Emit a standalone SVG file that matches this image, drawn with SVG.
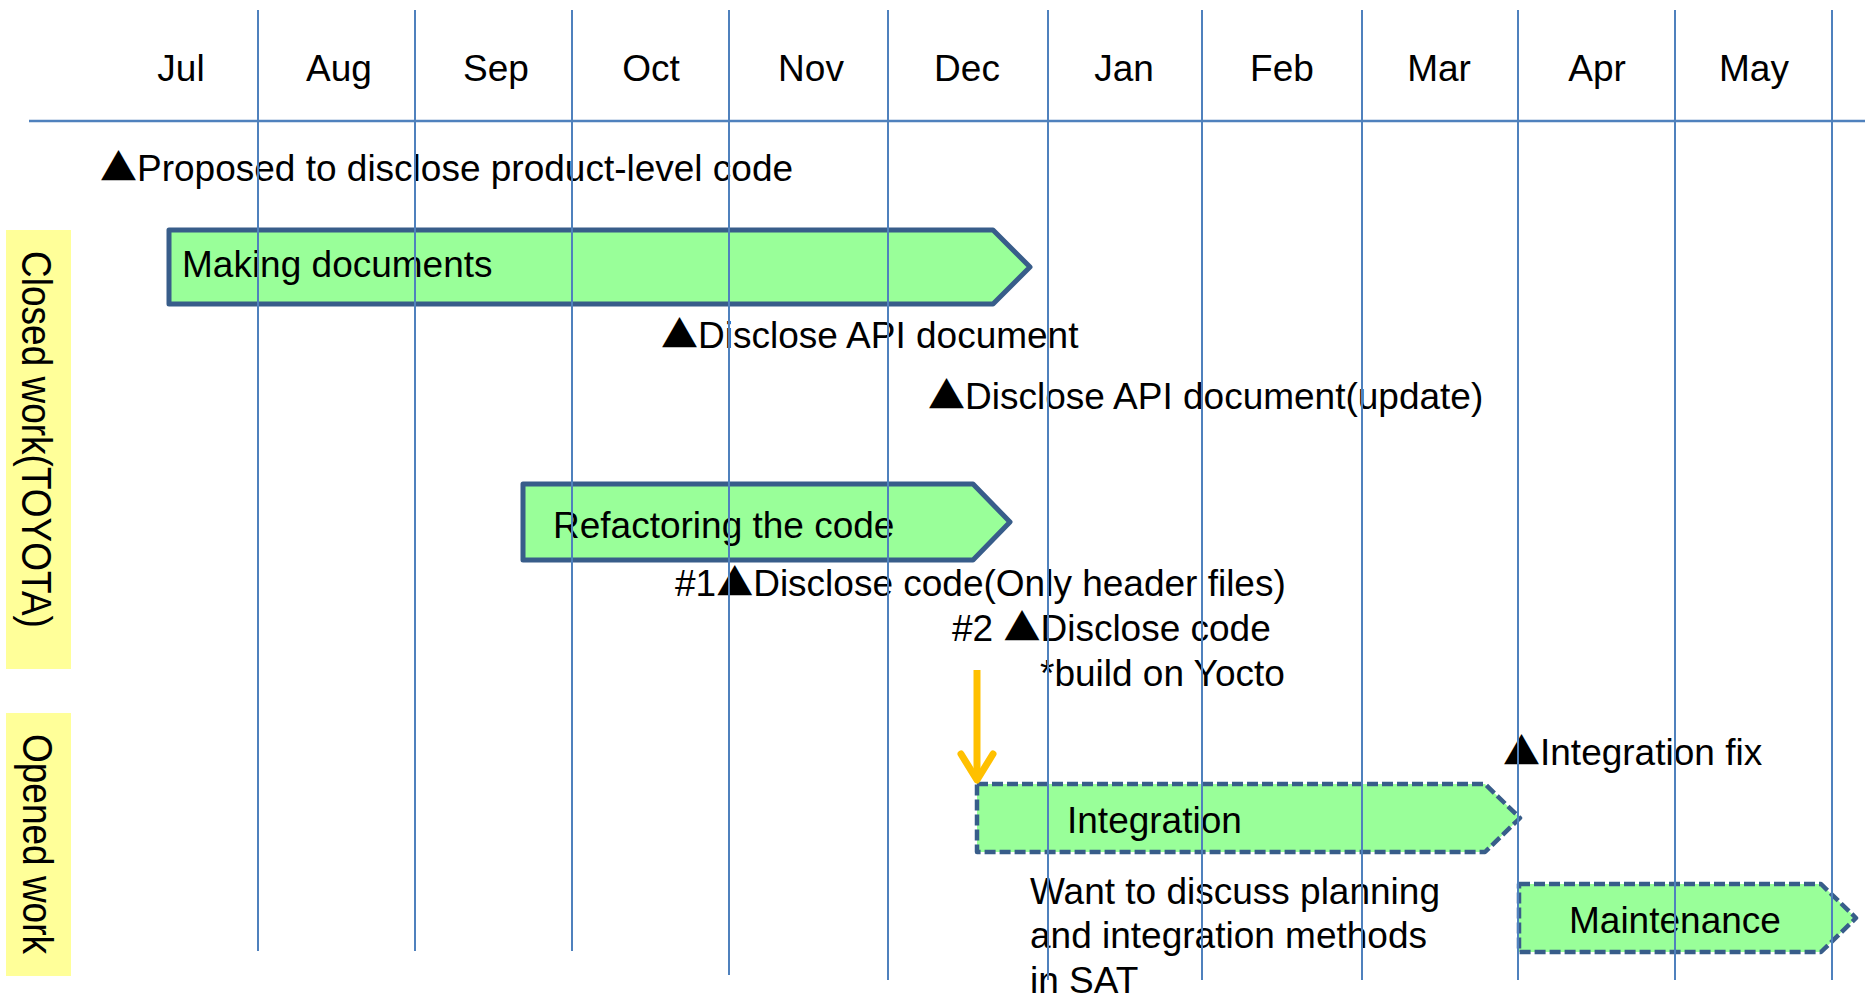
<svg xmlns="http://www.w3.org/2000/svg" width="1865" height="1003" viewBox="0 0 1865 1003">
<style>
text{font-family:"Liberation Sans",Arial,sans-serif;font-size:37px;fill:#000}
.tri{font-family:"Noto Sans CJK JP","Liberation Sans",sans-serif}
.mon{text-anchor:middle}
.lane{fill:#FFFF99}
.bar{fill:#99FF99;stroke:#385D8A;stroke-width:5;stroke-linejoin:round}
.dash{fill:#99FF99;stroke:#385D8A;stroke-width:4.5;stroke-dasharray:11 4;stroke-linejoin:round}
.grid{stroke:#4F81BD;stroke-width:2;fill:none}
</style>
<defs>
<marker id="chev" viewBox="0 0 40 40" refX="36" refY="20" markerWidth="40" markerHeight="40" markerUnits="userSpaceOnUse" orient="auto">
<path d="M10,4 L36,20 L10,36" fill="none" stroke="#FFC000" stroke-width="7" stroke-linecap="round" stroke-linejoin="round"/>
</marker>
</defs>
<rect width="1865" height="1003" fill="#fff"/>

<g id="months">
<text class="mon" x="181" y="81">Jul</text>
<text class="mon" x="339" y="81">Aug</text>
<text class="mon" x="496" y="81">Sep</text>
<text class="mon" x="651" y="81">Oct</text>
<text class="mon" x="811" y="81">Nov</text>
<text class="mon" x="967" y="81">Dec</text>
<text class="mon" x="1124" y="81">Jan</text>
<text class="mon" x="1282" y="81">Feb</text>
<text class="mon" x="1439" y="81">Mar</text>
<text class="mon" x="1597" y="81">Apr</text>
<text class="mon" x="1754" y="81">May</text>
</g>

<g id="lane-closed">
<rect class="lane" x="6" y="230" width="65" height="439"/>
<text transform="translate(22,439.5) rotate(90) scale(1,1.15)" text-anchor="middle">Closed work(TOYOTA)</text>
</g>
<g id="lane-opened">
<rect class="lane" x="6" y="713" width="65" height="263"/>
<text transform="translate(23,844) rotate(90) scale(1,1.15)" text-anchor="middle">Opened work</text>
</g>

<g id="m-proposed"><text x="100" y="181"><tspan class="tri">▲</tspan>Proposed to disclose product-level code</text></g>

<g id="making-documents">
<path class="bar" d="M169,230 H993 L1030,267 L993,304 H169 Z"/>
<text x="182" y="277">Making documents</text>
</g>

<g id="m-api"><text x="661" y="348"><tspan class="tri">▲</tspan>Disclose API document</text></g>
<g id="m-api-update"><text x="928" y="409"><tspan class="tri">▲</tspan>Disclose API document(update)</text></g>

<g id="refactoring">
<path class="bar" d="M523,484 H973 L1010,522 L973,560 H523 Z"/>
<text x="553" y="538">Refactoring the code</text>
</g>

<g id="m-code1"><text x="675" y="596">#1<tspan class="tri">▲</tspan>Disclose code(Only header files)</text></g>
<g id="m-code2">
<text x="952" y="641">#2 <tspan class="tri">▲</tspan>Disclose code</text>
<text x="1040" y="686">*build on Yocto</text>
</g>

<g id="m-integration-fix"><text x="1503" y="765"><tspan class="tri">▲</tspan>Integration fix</text></g>

<g id="integration">
<path class="dash" d="M977,784 H1485 L1520,818 L1485,852 H977 Z"/>
<text x="1067" y="833">Integration</text>
</g>

<g id="note">
<text x="1030" y="904">Want to discuss planning</text>
<text x="1030" y="948">and integration methods</text>
<text x="1030" y="993">in SAT</text>
</g>

<g id="maintenance">
<path class="dash" d="M1519,884 H1821 L1856,918 L1821,952 H1519 Z"/>
<text x="1569" y="933">Maintenance</text>
</g>

<g id="connectors">
<path d="M977,670 V780" fill="none" stroke="#FFC000" stroke-width="7" marker-end="url(#chev)"/>
</g>

<g id="grid" class="grid">
<line x1="29" y1="121" x2="1865" y2="121" stroke-width="2.5"/>
<line x1="258" y1="10" x2="258" y2="951"/>
<line x1="415" y1="10" x2="415" y2="951"/>
<line x1="572" y1="10" x2="572" y2="951"/>
<line x1="729" y1="10" x2="729" y2="975"/>
<line x1="888" y1="10" x2="888" y2="980"/>
<line x1="1048" y1="10" x2="1048" y2="980"/>
<line x1="1202" y1="10" x2="1202" y2="980"/>
<line x1="1362" y1="10" x2="1362" y2="980"/>
<line x1="1518" y1="10" x2="1518" y2="980"/>
<line x1="1675" y1="10" x2="1675" y2="980"/>
<line x1="1832" y1="10" x2="1832" y2="980"/>
</g>
</svg>
